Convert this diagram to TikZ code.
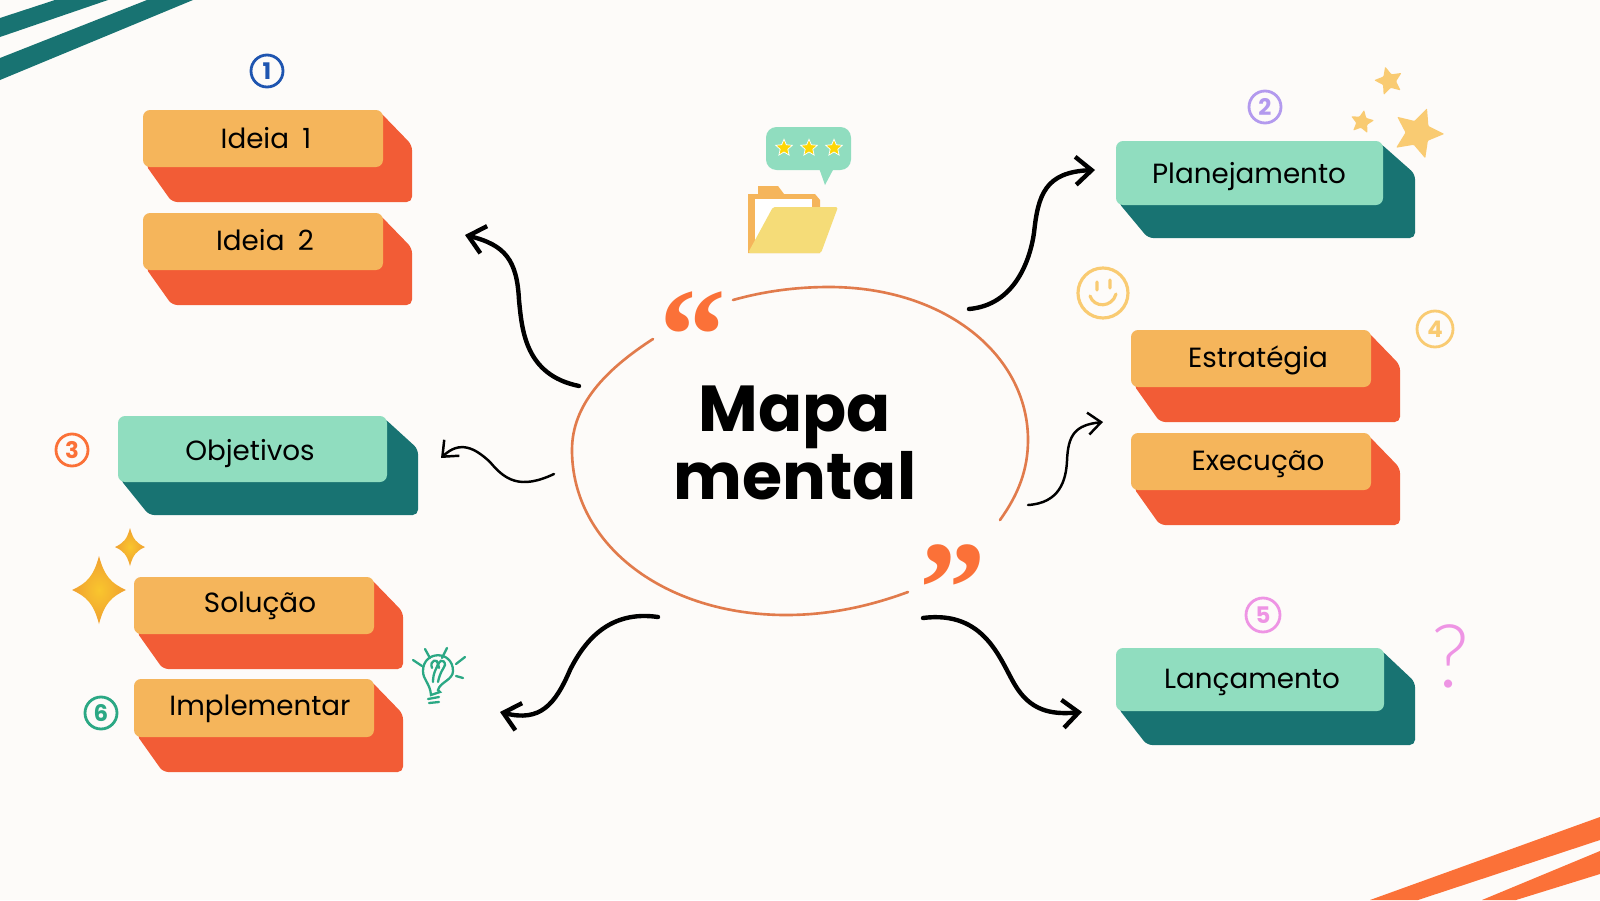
\documentclass[tikz,border=0pt]{standalone}
\usepackage{fontspec}
\setmainfont{Poppins}[WordSpace=1.8]
\newfontfamily\quotefont{Liberation Serif}
\newfontfamily\thinfont{Lato Light}
\usetikzlibrary{arrows.meta,shapes.geometric}
\definecolor{paper}{HTML}{FDFBF9}
\definecolor{amber}{HTML}{F5B55B}
\definecolor{tomato}{HTML}{F25C36}
\definecolor{mint}{HTML}{90DDBF}
\definecolor{deepteal}{HTML}{187372}
\definecolor{ringline}{HTML}{E17B4C}
\definecolor{quoteorange}{HTML}{FB7138}
\definecolor{sand}{HTML}{F9CB72}
\definecolor{folderyellow}{HTML}{F5DC78}
\definecolor{bulbgreen}{HTML}{2BA884}
\definecolor{numblue}{HTML}{1F55B0}
\definecolor{numpurple}{HTML}{B39AEE}
\definecolor{numpink}{HTML}{EE94E4}
\definecolor{sparkgold}{HTML}{F9C62E}
\definecolor{sparkedge}{HTML}{F0A030}
\tikzset{
	blocklabel/.style={font=\fontsize{15.8}{20}\selectfont, text=black, inner sep=0pt, anchor=base},
	badge/.style={circle, draw=#1, text=#1, line width=1.6pt, minimum size=32*0.02cm, inner sep=0pt, font=\bfseries\fontsize{13}{15}\selectfont},
	bigcurve/.style={black, line width=2.5pt, line cap=round, -{Straight Barb[length=3.2mm,width=5.6mm,line width=2.5pt]}},
	thincurve/.style={black, line width=1.4pt, line cap=round, -{Straight Barb[length=2.6mm,width=4.4mm,line width=1.4pt]}},
	rayline/.style={bulbgreen, line width=1.3pt, line cap=round},
	deco star/.style={star, star points=5, star point ratio=2.1, fill=sand, inner sep=0pt, rounded corners=0.5pt},
	quotemark/.style={text=quoteorange, font=\quotefont\bfseries\fontsize{76}{76}\selectfont, inner sep=0pt}
}
% block: front colour, back colour, x0, y0, x1, y1, depth x, depth y
\newcommand{\blockbox}[8]{
	\fill[#2, rounded corners=3] (#5-3,#4+2) -- ({#5+#7},{#4+#8}) -- ({#5+#7},{#6+#8}) -- ({#3+#7},{#6+#8}) -- (#3+2,#6-3) -- cycle;
	\fill[#1, rounded corners=4] (#3,#4) rectangle (#5,#6);
}
% four point sparkle: x, y, half width, half height
\newcommand{\sparkle}[4]{
	\shade[inner color=sparkgold, outer color=sparkedge] (#1,#2-#4) .. controls (#1+0.2*#3,#2-0.4*#4) and (#1+0.45*#3,#2-0.2*#4) .. (#1+#3,#2) .. controls (#1+0.45*#3,#2+0.2*#4) and (#1+0.2*#3,#2+0.4*#4) .. (#1,#2+#4) .. controls (#1-0.2*#3,#2+0.4*#4) and (#1-0.45*#3,#2+0.2*#4) .. (#1-#3,#2) .. controls (#1-0.45*#3,#2-0.2*#4) and (#1-0.2*#3,#2-0.4*#4) .. cycle;
}
\begin{document}
\begin{tikzpicture}[x=0.02cm, y=-0.02cm]
	\useasboundingbox (0,0) rectangle (1600,900);
	\fill[paper] (0,0) rectangle (1600,900);
	% corner stripes
	\fill[deepteal] (0,18) -- (55,0) -- (108,0) -- (0,37) -- cycle;
	\fill[deepteal] (0,58) -- (147,0) -- (193,0) -- (0,80) -- cycle;
	\fill[quoteorange] (1600,817) -- (1600,840) -- (1418,900) -- (1370,900) -- cycle;
	\fill[quoteorange] (1600,851) -- (1600,874) -- (1516,900) -- (1482,900) -- cycle;
	% blocks
	\blockbox{amber}{tomato}{143}{110}{383}{167}{29}{35}
	\blockbox{amber}{tomato}{143}{213}{383}{270}{29}{35}
	\blockbox{mint}{deepteal}{118}{416}{387}{482}{31}{33}
	\blockbox{amber}{tomato}{134}{577}{374}{634}{29}{35}
	\blockbox{amber}{tomato}{134}{679}{374}{737}{29}{35}
	\blockbox{mint}{deepteal}{1116}{141}{1383}{205}{32}{33}
	\blockbox{amber}{tomato}{1131}{330}{1371}{387}{29}{35}
	\blockbox{amber}{tomato}{1131}{433}{1371}{490}{29}{35}
	\blockbox{mint}{deepteal}{1116}{648}{1384}{711}{31}{34}
	\node[blocklabel] (ideiaA) at (266,148) {Ideia 1};
	\node[blocklabel] (ideiaB) at (265,250) {Ideia 2};
	\node[blocklabel] (objetivos) at (250,460) {Objetivos};
	\node[blocklabel] (solucao) at (260,612) {Solução};
	\node[blocklabel] (implementar) at (260,715) {Implementar};
	\node[blocklabel] (planejamento) at (1249,183) {Planejamento};
	\node[blocklabel] (estrategia) at (1258,367) {Estratégia};
	\node[blocklabel] (execucao) at (1258,470) {Execução};
	\node[blocklabel] (lancamento) at (1252,688) {Lançamento};
	% numbers
	\node[badge=numblue] (numA) at (267,71) {1};
	\node[badge=numpurple] (numB) at (1265,107) {2};
	\node[badge=quoteorange] (numC) at (72,450) {3};
	\node[badge=sand, minimum size=36*0.02cm] (numD) at (1435,329) {4};
	\node[badge=numpink, minimum size=34*0.02cm] (numE) at (1263,615) {5};
	\node[badge=bulbgreen] (numF) at (101,713) {6};
	% ring with its two gaps
	\draw[ringline, line width=1.5pt, line cap=round] (733,300) .. controls (765,291) and (797,287) .. (829,287) .. controls (945,287) and (1028,355) .. (1028,440) .. controls (1028,470) and (1018,495) .. (1000,520);
	\draw[ringline, line width=1.5pt, line cap=round] (908,592) .. controls (870,606) and (830,615) .. (786,615) .. controls (665,615) and (572,545) .. (572,450) .. controls (572,405) and (605,370) .. (653,339);
	\node[quotemark] (quoteopen) at (693,336) {“};
	\node[quotemark] (quoteclose) at (953,589) {”};
	\node[font=\bfseries\fontsize{37}{35.5}\selectfont, align=center, inner sep=0pt] (title) at (795,443) {Mapa\\mental};
	% arrows
	\coordinate (ringA) at (579,386);
	\coordinate (ringB) at (554,474);
	\coordinate (ringC) at (658,617);
	\coordinate (ringD) at (923,618);
	\coordinate (ringE) at (969,309);
	\coordinate (ringF) at (1028,505);
	\coordinate (toIdeia) at (465,235);
	\coordinate (toObjetivos) at (441,458);
	\coordinate (toSolucao) at (500,712);
	\coordinate (toLancamento) at (1082,712);
	\coordinate (toPlano) at (1095,170);
	\coordinate (toEstrategia) at (1103,422);
	\draw[bigcurve] (ringA) .. controls (525,375) and (522,330) .. (519,300) .. controls (517,260) and (505,245) .. (toIdeia);
	\draw[thincurve] (ringB) .. controls (520,490) and (505,480) .. (490,462) .. controls (475,448) and (460,440) .. (toObjetivos);
	\draw[bigcurve] (ringC) .. controls (610,610) and (585,640) .. (570,670) .. controls (555,705) and (540,722) .. (toSolucao);
	\draw[bigcurve] (ringD) .. controls (985,610) and (1000,660) .. (1015,685) .. controls (1030,710) and (1050,715) .. (toLancamento);
	\draw[bigcurve] (ringE) .. controls (1015,305) and (1030,260) .. (1034,233) .. controls (1038,195) and (1045,172) .. (toPlano);
	\draw[thincurve] (ringF) .. controls (1060,503) and (1066,480) .. (1067,461) .. controls (1068,435) and (1075,425) .. (toEstrategia);
	% speech bubble and folder
	\fill[mint, rounded corners=6] (766,127) rectangle (851,170);
	\fill[mint] (819,168) -- (825,185) -- (834,168) -- cycle;
	\foreach \sx in {784,809,834}
		\node[star, star points=5, star point ratio=2.2, fill=yellow!75!orange, draw=white, line width=0.4pt, minimum size=10pt, inner sep=0pt] (bubblestar\sx) at (\sx,148) {};
	\fill[amber] (748,253) -- (748,194) -- (758,194) -- (758,186) -- (778,186) -- (784,194) -- (815,194) -- (820,200) -- (820,253) -- cycle;
	\fill[white] (755,199) rectangle (812,240);
	\fill[folderyellow, rounded corners=1] (773,207) -- (838,207) -- (821,253) -- (748,253) -- cycle;
	% stars, smile, sparkles, bulb, question mark
	\node[deco star, minimum size=30pt, rotate=-20] (starbig) at (1418,133) {};
	\node[deco star, minimum size=17pt, rotate=15] (starmid) at (1389,81) {};
	\node[deco star, minimum size=14pt, rotate=-10] (starlow) at (1362,122) {};
	\draw[sand, line width=1.8pt] (1103,293) circle (25);
	\draw[sand, line width=1.8pt, line cap=round] (1097,282) -- (1097,290) (1110,280) -- (1110,288) (1090,296) .. controls (1094,308) and (1112,308) .. (1116,294);
	\sparkle{99}{590}{27}{34}
	\sparkle{130}{547}{15}{19}
	\draw[rayline] (438,690) .. controls (440,682) and (453,680) .. (453,671) .. controls (453,650) and (423,650) .. (423,671) .. controls (423,680) and (430,683) .. (431,695) -- (440,692) -- cycle;
	\draw[rayline] (428,699) -- (439,697) (429,703) -- (439,702);
	\draw[rayline] (433,682) .. controls (433,672) and (437,668) .. (438,664) .. controls (438,658) and (429,660) .. (432,668) (438,682) .. controls (440,672) and (444,668) .. (445,665) .. controls (445,658) and (436,660) .. (439,668);
	\draw[rayline] (413,660) -- (422,666) (425,649) -- (430,658) (447,648) -- (442,658) (465,657) -- (456,664) (463,678) -- (456,676);
	\node[text=numpink, font=\thinfont\fontsize{50}{52}\selectfont, inner sep=0pt] (question) at (1450,656) {?};
\end{tikzpicture}
\end{document}
